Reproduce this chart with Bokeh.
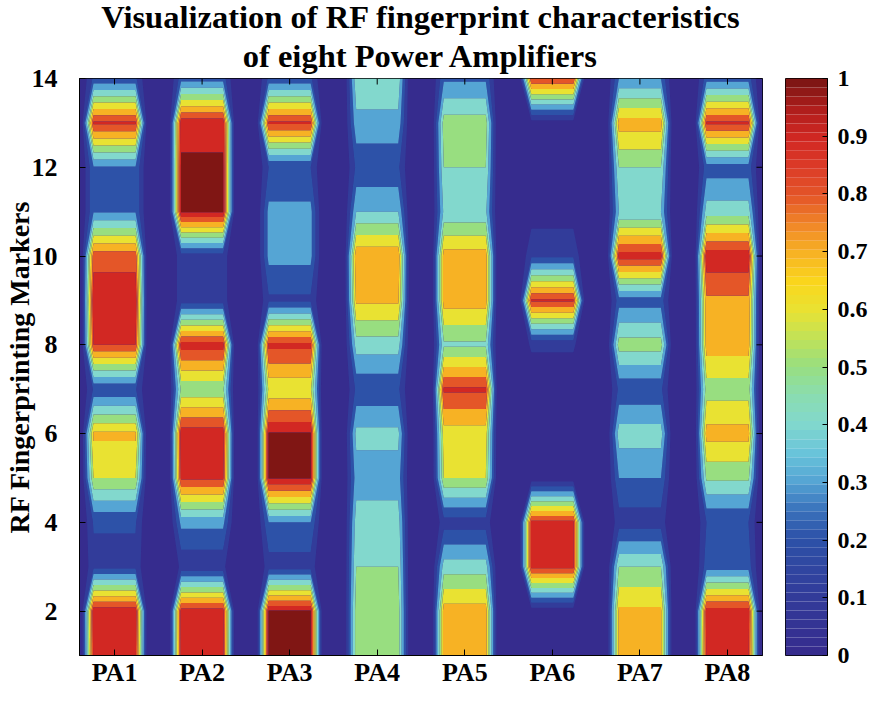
import numpy as np
from bokeh.plotting import figure
from bokeh.layouts import row
from bokeh.models import (FixedTicker, Range1d, Title, CustomJSTickFormatter)
from bokeh.embed import file_html
from bokeh.resources import INLINE

# ---------------- data ----------------
pa_labels = ["PA1", "PA2", "PA3", "PA4", "PA5", "PA6", "PA7", "PA8"]
markers = list(range(1, 15))

pa1 = [0.93, 0.97, 0.17, 0.21, 0.60, 0.72, 0.21, 0.90, 0.97, 0.86, 0.29, 0.29, 0.92, 0.22]
pa2 = [0.93, 0.95, 0.12, 0.33, 0.92, 0.96, 0.52, 0.95, 0.15, 0.15, 1.00, 1.00, 0.97, 0.25]
pa3 = [1.00, 1.00, 0.15, 0.30, 1.00, 1.00, 0.62, 0.93, 0.18, 0.33, 0.33, 0.20, 0.92, 0.22]
pa4 = [0.55, 0.55, 0.50, 0.45, 0.35, 0.43, 0.22, 0.45, 0.72, 0.78, 0.40, 0.22, 0.37, 0.47]
pa5 = [0.75, 0.75, 0.45, 0.15, 0.60, 0.65, 0.92, 0.48, 0.75, 0.75, 0.42, 0.50, 0.55, 0.28]
pa6 = [0.00, 0.03, 0.93, 0.93, 0.03, 0.00, 0.00, 0.12, 0.92, 0.18, 0.05, 0.00, 0.05, 0.90]
pa7 = [0.72, 0.72, 0.50, 0.15, 0.30, 0.45, 0.22, 0.55, 0.25, 0.95, 0.40, 0.50, 0.75, 0.30]
pa8 = [0.92, 0.95, 0.25, 0.20, 0.52, 0.74, 0.55, 0.75, 0.78, 0.97, 0.45, 0.25, 0.92, 0.25]

title_lines = ["Visualization of RF fingerprint characteristics", "of eight Power Amplifiers"]
y_label = "RF Fingerprinting Markers"
x_ticks = list(range(1, 9))
y_ticks = [2, 4, 6, 8, 10, 12, 14]
colorbar_ticks = [0, 0.1, 0.2, 0.3, 0.4, 0.5, 0.6, 0.7, 0.8, 0.9, 1.0]
contour_levels = [-0.01, 0.1, 0.2, 0.3, 0.4, 0.5, 0.6, 0.7, 0.8, 0.9, 0.99, 1.01]
band_keys = [0.0, 0.1, 0.2, 0.3, 0.4, 0.5, 0.6, 0.7, 0.8, 0.9, 1.0]

# ---------------- colormap ----------------
anchors = [
    (0.00, (54, 44, 142)),
    (0.10, (50, 60, 154)),
    (0.20, (45, 82, 168)),
    (0.25, (58, 115, 188)),
    (0.30, (85, 165, 212)),
    (0.35, (105, 196, 218)),
    (0.40, (130, 216, 205)),
    (0.45, (138, 221, 176)),
    (0.50, (152, 222, 128)),
    (0.55, (192, 226, 88)),
    (0.60, (233, 226, 50)),
    (0.65, (250, 214, 28)),
    (0.70, (247, 178, 36)),
    (0.75, (240, 135, 40)),
    (0.80, (228, 86, 40)),
    (0.85, (220, 60, 40)),
    (0.90, (210, 40, 35)),
    (0.95, (178, 30, 28)),
    (1.00, (128, 22, 20)),
]


def cmap(t):
    t = min(max(t, 0.0), 1.0)
    for (t0, c0), (t1, c1) in zip(anchors[:-1], anchors[1:]):
        if t0 <= t <= t1:
            f = 0.0 if t1 == t0 else (t - t0) / (t1 - t0)
            r, g, b = (int(round(a + (bb - a) * f)) for a, bb in zip(c0, c1))
            return "#%02x%02x%02x" % (r, g, b)
    return "#%02x%02x%02x" % anchors[-1][1]


N_COLORS = 64
palette64 = [cmap(i / (N_COLORS - 1)) for i in range(N_COLORS)]
band_colors = [cmap(k) for k in band_keys]

# ---------------- grid (zero gaps between PA columns) ----------------
values = np.array([pa1, pa2, pa3, pa4, pa5, pa6, pa7, pa8])
zero = np.zeros(len(markers))
xs = [0.6]
zcols = [zero]
for k in range(len(pa_labels)):
    c = k + 1
    xs += [c - 0.38, c - 0.24, c + 0.24, c + 0.38]
    zcols += [zero, values[k], values[k], zero]
xs.append(8.4)
zcols.append(zero)
X = np.array(xs)
Y = np.array(markers, dtype=float)
Z = np.column_stack(zcols)

FONT = "Liberation Serif"

# ---------------- main contour figure ----------------
p = figure(width=763, height=693, x_range=Range1d(0.6, 8.4), y_range=Range1d(1, 14),
           title=None, output_backend="svg", toolbar_location=None,
           min_border_left=75, min_border_right=1, min_border_top=75, min_border_bottom=36)
p.background_fill_color = cmap(0.0)
p.border_fill_color = "white"
p.outline_line_color = "black"
p.outline_line_width = 1
p.grid.visible = False

p.contour(X, Y, Z, contour_levels, fill_color=band_colors, line_color=None)

# inward box ticks on top and right edges
p.ray(x=x_ticks, y=14, length=6, length_units="screen", angle=-np.pi / 2,
      line_color="black", line_width=1)
p.ray(x=8.4, y=y_ticks, length=6, length_units="screen", angle=np.pi,
      line_color="black", line_width=1)

# two centred title lines (added nearest-first)
for line, stand in ((title_lines[1], 10), (title_lines[0], -8)):
    p.add_layout(Title(text=line, align="center", text_font=FONT, text_font_style="bold",
                       text_font_size="32.5px", text_color="black", standoff=stand), "above")

p.xaxis.ticker = FixedTicker(ticks=x_ticks)
p.xaxis.major_label_overrides = {i + 1: lab for i, lab in enumerate(pa_labels)}
p.yaxis.ticker = FixedTicker(ticks=y_ticks)
p.yaxis.axis_label = y_label
for ax in (p.xaxis[0], p.yaxis[0]):
    ax.major_label_text_font = FONT
    ax.major_label_text_font_style = "bold"
    ax.major_label_text_font_size = "26px"
    ax.major_label_text_color = "black"
    ax.axis_line_color = "black"
    ax.major_tick_in = 6
    ax.major_tick_out = 0
    ax.major_tick_line_color = "black"
    ax.minor_tick_line_color = None
p.xaxis.major_label_standoff = 2
p.yaxis.major_label_standoff = 22
p.yaxis.axis_label_text_font = FONT
p.yaxis.axis_label_text_font_style = "bold"
p.yaxis.axis_label_text_font_size = "28px"
p.yaxis.axis_label_text_color = "black"
p.yaxis.axis_label_standoff = -6

# ---------------- colour bar as its own small figure ----------------
edges = np.linspace(0, 1, N_COLORS + 1)
cb = figure(width=107, height=693, x_range=Range1d(0, 1), y_range=Range1d(0, 1),
            title=None, output_backend="svg", toolbar_location=None,
            x_axis_location=None, y_axis_location="right",
            min_border_left=22, min_border_right=40, min_border_top=72, min_border_bottom=38)
cb.grid.visible = False
cb.outline_line_color = "black"
cb.outline_line_width = 1
cb.border_fill_color = "white"
cb.quad(left=0, right=1, bottom=edges[:-1], top=edges[1:], fill_color=palette64,
        line_color=None)
cax = cb.yaxis[0]
cax.ticker = FixedTicker(ticks=colorbar_ticks)
cax.formatter = CustomJSTickFormatter(code="return (Math.round(tick*10)/10).toString();")
cax.major_label_text_font = FONT
cax.major_label_text_font_style = "bold"
cax.major_label_text_font_size = "24px"
cax.major_label_text_color = "black"
cax.axis_line_color = "black"
cax.major_tick_in = 5
cax.major_tick_out = 0
cax.major_tick_line_color = "black"
cax.minor_tick_line_color = None
cax.major_label_standoff = 10

layout = row(p, cb, spacing=0)
open("out.html", "w").write(file_html(layout, INLINE))
